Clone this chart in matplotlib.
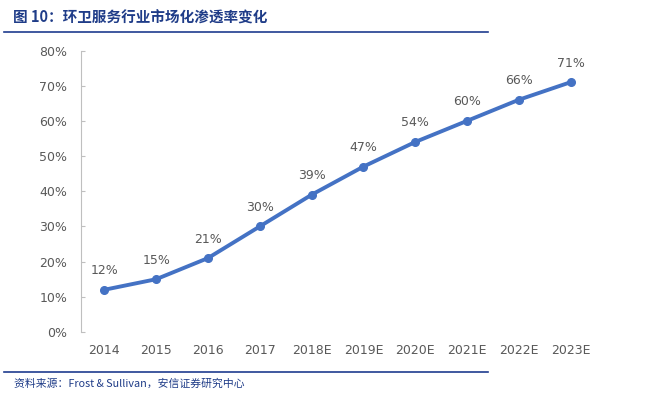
import matplotlib.pyplot as plt
from matplotlib.lines import Line2D

plt.rcParams['font.family'] = ['Noto Sans CJK SC', 'DejaVu Sans']

years = ['2014', '2015', '2016', '2017', '2018E', '2019E', '2020E', '2021E', '2022E', '2023E']
rate = [12, 15, 21, 30, 39, 47, 54, 60, 66, 71]
yticks = [0, 10, 20, 30, 40, 50, 60, 70, 80]

fig = plt.figure(figsize=(6.66, 3.93), dpi=100)
W, H = 666, 393
ax = fig.add_axes([81 / W, 1 - 332 / H, (594 - 81) / W, (332 - 50.5) / H])

x = list(range(len(years)))
ax.plot(x, rate, color='#4472C4', lw=2.8, marker='o', ms=5.5, zorder=3)
for xi, v in zip(x, rate):
    ax.annotate(f'{v}%', (xi, v), xytext=(0, 9), textcoords='offset points',
                ha='center', va='bottom', fontsize=9, color='#595959', family='DejaVu Sans')

ax.set_xlim(-0.45, len(years) - 0.55)
ax.set_ylim(0, 80)
ax.set_yticks(yticks)
ax.set_yticklabels([f'{t}%' for t in yticks], fontsize=9, color='#595959', family='DejaVu Sans')
ax.set_xticks(x)
ax.set_xticklabels(years, fontsize=9, color='#595959', family='DejaVu Sans')
for s in ['top', 'right', 'bottom']:
    ax.spines[s].set_visible(False)
ax.spines['left'].set_color('#BFBFBF')
ax.tick_params(axis='y', direction='in', length=3, color='#BFBFBF', pad=10)
ax.tick_params(axis='x', length=0, pad=8.5)

navy = '#1F3C88'
fig.text(13 / W, 1 - 18 / H, '图 10：环卫服务行业市场化渗透率变化', fontsize=10.5,
         fontweight='bold', color=navy, va='center', ha='left')
fig.add_artist(Line2D([4 / W, 488 / W], [1 - 32 / H, 1 - 32 / H], color='#1F3C8F', lw=1.2))
fig.add_artist(Line2D([4 / W, 488 / W], [1 - 372 / H, 1 - 372 / H], color='#1F3C8F', lw=1.2))
fig.text(14 / W, 1 - 384 / H, '资料来源：Frost & Sullivan，安信证券研究中心', fontsize=7.8,
         style='italic', color=navy, va='center', ha='left',
         family=['Noto Sans CJK SC', 'DejaVu Serif'])

fig.savefig('out.png', dpi=100)
